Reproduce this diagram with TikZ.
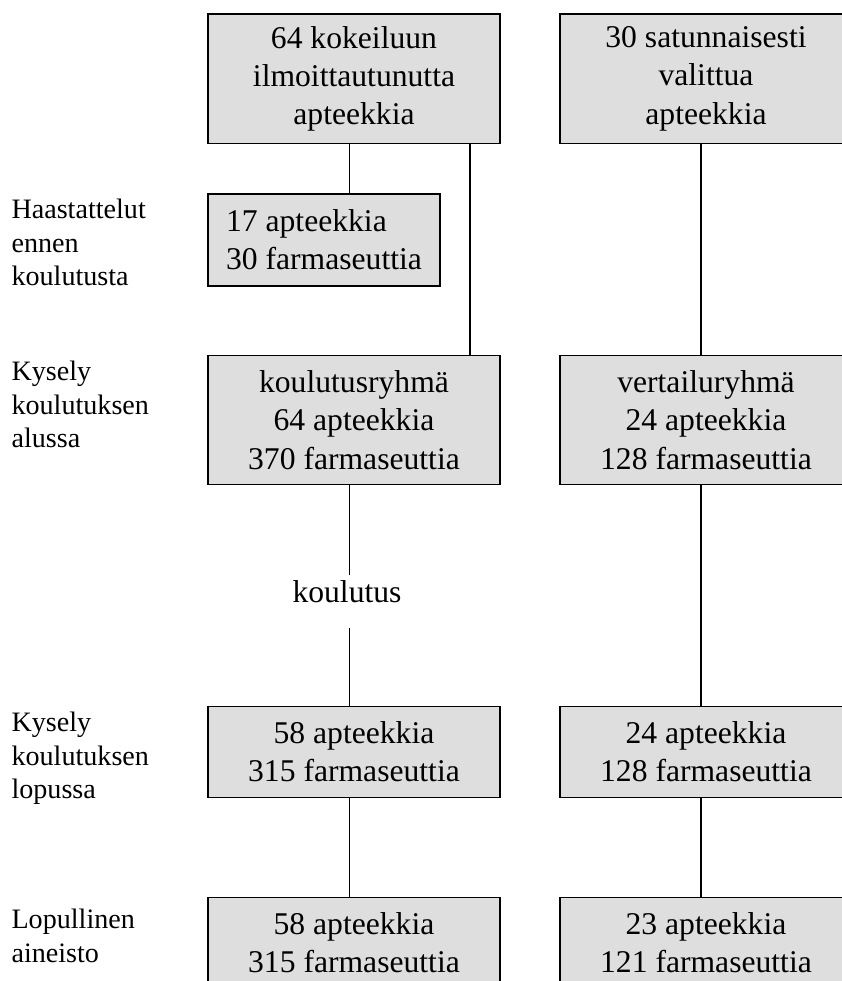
\documentclass[tikz,border=0pt]{standalone}
\usepackage{fontspec}
\setmainfont{Liberation Serif}
\definecolor{boxgray}{gray}{0.87}
\begin{document}
\begin{tikzpicture}[line width=0.6pt,
  box/.style={draw,fill=boxgray,minimum width=5.84cm,align=center,inner sep=0pt,font=\fontsize{18}{21.8}\selectfont},
  side/.style={anchor=north west,align=left,inner sep=0pt,font=\fontsize{16}{19.1}\selectfont}]
\useasboundingbox (0,0) rectangle (16.84,19.62);
\clip (0,0) rectangle (16.84,19.62);
\coordinate (c1) at (6.99,0);
\coordinate (c2) at (9.40,0);
\coordinate (c3) at (14.02,0);
% vaiheet
\node[side] (haastlbl) at (0.22,15.646) {Haastattelut\\ennen\\koulutusta};
\node[side] (alkulbl) at (0.22,12.406) {Kysely\\koulutuksen\\alussa};
\node[side] (loppulbl) at (0.22,5.386) {Kysely\\koulutuksen\\lopussa};
\node[side] (ainlbl) at (0.22,1.446) {Lopullinen\\aineisto};
% koulutusryhma
\node[box,minimum height=2.59cm] (ilm) at (7.08,18.045) {64 kokeiluun\\ilmoittautunutta\\apteekkia};
\node[box,minimum width=4.64cm,minimum height=1.84cm,align=left] (haast) at (6.48,14.82) {17 apteekkia\\30 farmaseuttia};
\node[box,minimum height=2.57cm] (kry) at (7.08,11.22) {koulutusryhmä\\64 apteekkia\\370 farmaseuttia};
\node[anchor=base,inner sep=0pt,text height=0.54cm,text depth=0.48cm,font=\fontsize{18}{21.8}\selectfont] (koul) at (6.94,7.56) {koulutus};
\node[box,minimum height=1.81cm] (klop) at (7.08,4.58) {58 apteekkia\\315 farmaseuttia};
\node[box,minimum height=1.81cm] (kain) at (7.08,0.77) {58 apteekkia\\315 farmaseuttia};
% vertailuryhma
\node[box,minimum height=2.59cm] (sat) at (14.12,18.045) {30 satunnaisesti\\valittua\\apteekkia};
\node[box,minimum height=2.57cm] (vry) at (14.12,11.22) {vertailuryhmä\\24 apteekkia\\128 farmaseuttia};
\node[box,minimum height=1.81cm] (vlop) at (14.12,4.58) {24 apteekkia\\128 farmaseuttia};
\node[box,minimum height=1.81cm] (vain) at (14.12,0.77) {23 apteekkia\\121 farmaseuttia};
% viivat
\draw (ilm.south -| c1) -- (haast.north -| c1);
\draw (ilm.south -| c2) -- (kry.north -| c2);
\draw (kry.south -| c1) -- (koul.north -| c1);
\draw (koul.south -| c1) -- (klop.north -| c1);
\draw (klop.south -| c1) -- (kain.north -| c1);
\draw (sat.south -| c3) -- (vry.north -| c3);
\draw (vry.south -| c3) -- (vlop.north -| c3);
\draw (vlop.south -| c3) -- (vain.north -| c3);
\end{tikzpicture}
\end{document}
